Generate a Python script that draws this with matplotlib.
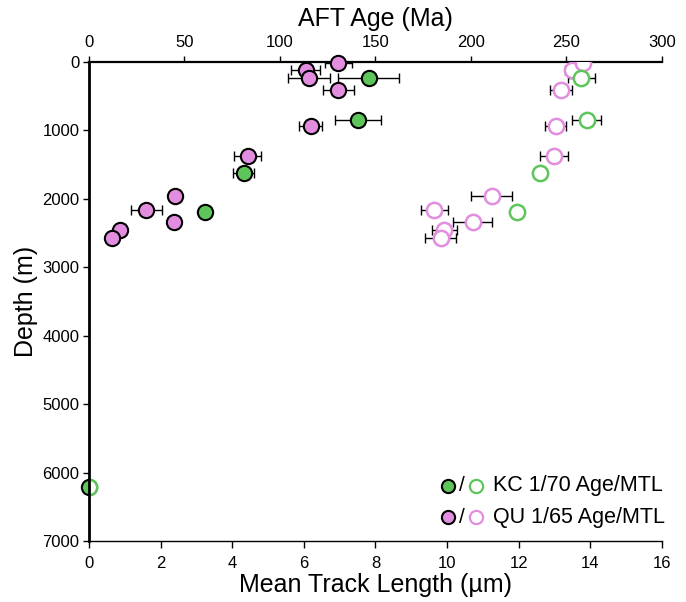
"""Depth profile of AFT ages and mean track lengths for two wells."""

import matplotlib

matplotlib.use("Agg")
import matplotlib.pyplot as plt

plt.rcParams["font.family"] = ["Liberation Sans", "DejaVu Sans"]

GREEN = "#5ec55a"
PINK = "#e28de0"

# KC 1/70
kc_depth = [238, 848, 1627, 2195, 6210]
kc_age = [146.5, 141.0, 81.0, 60.5, 0.0]
kc_age_err = [16.0, 12.0, 5.5, 0.0, 0.0]
kc_mtl = [13.75, 13.9, 12.6, 11.95, 0.0]
kc_mtl_err = [0.37, 0.4, 0.15, 0.0, 0.0]

# QU 1/65
qu_depth = [10, 117, 234, 409, 935, 1373, 1958, 2165, 2340, 2450, 2570]
qu_age = [130.5, 113.5, 115.0, 130.5, 116.0, 83.0, 45.0, 30.0, 44.5, 16.5, 12.0]
qu_age_err = [7.0, 7.5, 11.0, 8.0, 6.0, 7.0, 2.0, 8.0, 3.0, 0.0, 0.0]
qu_mtl_depth = [117, 10, 409, 935, 1373, 1958, 2165, 2340, 2450, 2570]
qu_mtl = [13.48, 13.79, 13.18, 13.03, 12.98, 11.25, 9.64, 10.71, 9.92, 9.82]
qu_mtl_err = [0.2, 0.0, 0.32, 0.3, 0.4, 0.57, 0.38, 0.55, 0.35, 0.43]

fig = plt.figure(figsize=(6.86, 6.02), dpi=100)
ax = fig.add_axes([0.1297, 0.1013, 0.8353, 0.7957])
ax2 = ax.twiny()
ax.set_zorder(ax2.get_zorder() + 1)
ax.patch.set_visible(False)

err_kw = dict(fmt="none", ecolor="black", elinewidth=1, capsize=3.5, capthick=1, zorder=2)
ms = 11

# ages (filled) on top axis
ax2.errorbar(kc_age, kc_depth, xerr=kc_age_err, **err_kw)
ax2.errorbar(qu_age, qu_depth, xerr=qu_age_err, **err_kw)
ax2.plot(qu_age, qu_depth, "o", ms=ms, mfc=PINK, mec="black", mew=1.5, ls="none", zorder=3, clip_on=False)
ax2.plot(kc_age, kc_depth, "o", ms=ms, mfc=GREEN, mec="black", mew=1.5, ls="none", zorder=3, clip_on=False)

# mean track lengths (open) on bottom axis
ax.errorbar(kc_mtl, kc_depth, xerr=kc_mtl_err, **err_kw)
ax.errorbar(qu_mtl, qu_mtl_depth, xerr=qu_mtl_err, **err_kw)
ax.plot(qu_mtl, qu_mtl_depth, "o", ms=ms, mfc="white", mec=PINK, mew=1.8, ls="none", zorder=3)
ax.plot(kc_mtl, kc_depth, "o", ms=ms, mfc="white", mec=GREEN, mew=1.8, ls="none", zorder=3)

ax.set_xlim(0, 16)
ax.set_ylim(7000, 0)
ax2.set_xlim(0, 300)
ax.set_xticks(range(0, 17, 2))
ax.set_yticks(range(0, 7001, 1000))
ax2.set_xticks(range(0, 301, 50))

for a in (ax, ax2):
    for s in a.spines.values():
        s.set_visible(False)
ax.spines["left"].set_visible(True)
ax.spines["left"].set_linewidth(2.0)
ax.spines["left"].set_zorder(5)
ax.spines["bottom"].set_visible(True)
ax.spines["bottom"].set_linewidth(1.0)
ax2.spines["top"].set_visible(True)
ax2.spines["top"].set_linewidth(1.6)

ax.tick_params(axis="y", labelsize=12, length=4, width=1, pad=3, direction="out")
ax.tick_params(axis="x", labelsize=12, length=5, width=1, pad=6, direction="out")
ax2.tick_params(axis="x", labelsize=12, length=4, width=1, pad=5, direction="out")

ax.set_xlabel("Mean Track Length (µm)", fontsize=18, labelpad=1)
ax.set_ylabel("Depth (m)", fontsize=18, labelpad=3)
ax2.set_xlabel("AFT Age (Ma)", fontsize=18, labelpad=6)

# legend built by hand
for y, col, label in [(0.115, GREEN, "KC 1/70 Age/MTL"), (0.050, PINK, "QU 1/65 Age/MTL")]:
    ax.plot([0.627], [y], "o", ms=9.5, mfc=col, mec="black", mew=1.5, transform=ax.transAxes, clip_on=False, zorder=4)
    ax.text(0.651, y, "/", fontsize=15, ha="center", va="center", transform=ax.transAxes)
    ax.plot([0.675], [y], "o", ms=9.5, mfc="white", mec=col, mew=1.6, transform=ax.transAxes, clip_on=False, zorder=4)
    ax.text(0.705, y, label, fontsize=15.5, ha="left", va="center", transform=ax.transAxes)

fig.savefig("out.png", dpi=100)
plt.close(fig)
